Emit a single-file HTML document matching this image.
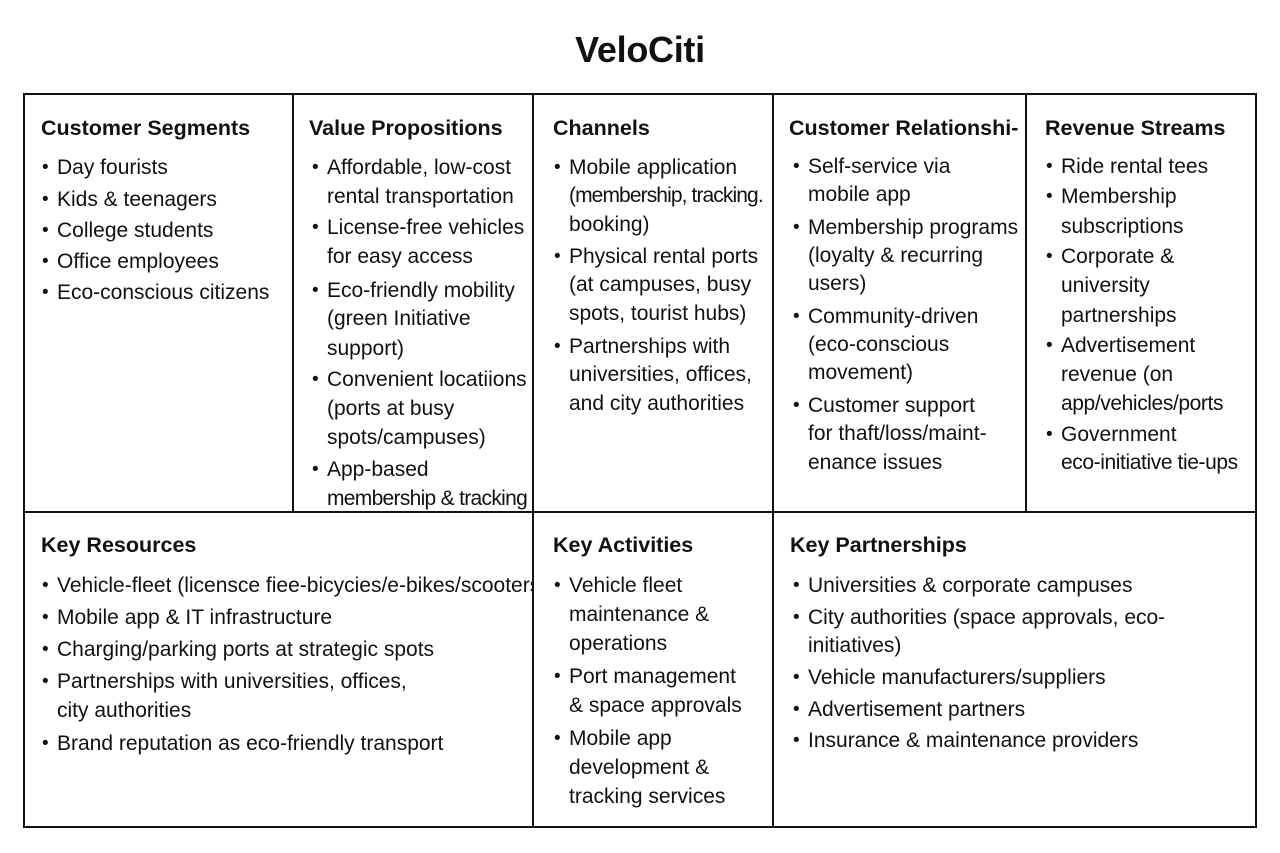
<!DOCTYPE html>
<html><head><meta charset="utf-8"><style>
body{margin:0;width:1280px;height:853px;background:#fff;position:relative;overflow:hidden;font-family:"Liberation Sans",Arial,sans-serif;color:#111}
.t{position:absolute;left:0;width:1280px;text-align:center;top:29px;font-size:36px;font-weight:bold;letter-spacing:-0.3px}
.l{position:absolute;font-size:21px;line-height:24px;white-space:nowrap}
.d{position:absolute;font-size:19px;line-height:24px}
.h{position:absolute;font-size:21.5px;line-height:24px;font-weight:bold;white-space:nowrap}
.b{position:absolute;width:2px;background:#111}
.hz{position:absolute;height:2px;background:#111}
.clip{position:absolute;left:25px;top:560px;width:507px;height:40px;overflow:hidden}
</style></head><body>
<div class="t">VeloCiti</div>
<div style="position:absolute;left:23px;top:93px;width:1230px;height:731px;border:2px solid #111"></div>
<div class="b" style="left:292px;top:93px;height:420px"></div>
<div class="b" style="left:532px;top:93px;height:734px"></div>
<div class="b" style="left:772px;top:93px;height:734px"></div>
<div class="b" style="left:1025px;top:93px;height:420px"></div>
<div class="hz" style="left:23px;top:511px;width:1234px"></div>
<div id="c"></div>
<script>
const H=[[41,127,"Customer Segments"],[309,127,"Value Propositions"],[553,127,"Channels"],[789,127,"Customer Relationshi-"],[1045,127,"Revenue Streams"],[41,544,"Key Resources"],[553,544,"Key Activities"],[790,544,"Key Partnerships"]];
const C=[
[57,[[167,"Day fourists",1],[199,"Kids & teenagers",1],[230,"College students",1],[261,"Office employees",1],[292,"Eco-conscious citizens",1]]],
[327,[[167,"Affordable, low-cost",1],[196,"rental transportation"],[227,"License-free vehicles",1],[256,"for easy access"],[290,"Eco-friendly mobility",1],[318,"(green Initiative"],[348,"support)"],[379,"Convenient locatiions",1],[408,"(ports at busy"],[437,"spots/campuses)"],[469,"App-based",1],[498,"membership & tracking",0,-0.7]]],
[569,[[167,"Mobile application",1],[195,"(membership, tracking.",0,-0.9],[224,"booking)"],[256,"Physical rental ports",1],[284,"(at campuses, busy"],[313,"spots, tourist hubs)"],[346,"Partnerships with",1],[374,"universities, offices,"],[403,"and city authorities"]]],
[808,[[166,"Self-service via",1],[194,"mobile app"],[227,"Membership programs",1],[255,"(loyalty & recurring"],[283,"users)"],[316,"Community-driven",1],[344,"(eco-conscious"],[372,"movement)"],[405,"Customer support",1],[433,"for thaft/loss/maint-"],[462,"enance issues"]]],
[1061,[[166,"Ride rental tees",1],[196,"Membership",1],[226,"subscriptions"],[256,"Corporate &",1],[285,"university"],[315,"partnerships"],[345,"Advertisement",1],[374,"revenue (on"],[403,"app/vehicles/ports",0,-0.4],[434,"Government",1],[462,"eco-initiative tie-ups",0,-0.4]]],
[57,[[617,"Mobile app & IT infrastructure",1],[649,"Charging/parking ports at strategic spots",1],[681,"Partnerships with universities, offices,",1],[710,"city authorities"],[743,"Brand reputation as eco-friendly transport",1]]],
[569,[[585,"Vehicle fleet",1],[614,"maintenance  &"],[643,"operations"],[676,"Port management",1],[705,"& space approvals"],[738,"Mobile app",1],[767,"development &"],[796,"tracking services"]]],
[808,[[585,"Universities & corporate campuses",1],[617,"City authorities (space approvals, eco-",1],[645,"initiatives)"],[677,"Vehicle manufacturers/suppliers",1],[709,"Advertisement partners",1],[740,"Insurance & maintenance providers",1]]]];
let s="";
const e=t=>t.replace(/&/g,"&amp;");
H.forEach(h=>s+=`<div class="h" style="left:${h[0]}px;top:${h[1]-11}px">${e(h[2])}</div>`);
C.forEach(c=>c[1].forEach(l=>{s+=`<div class="l" style="left:${c[0]}px;top:${l[0]-11}px;letter-spacing:${l[3]||0}px">${e(l[1])}</div>`;if(l[2])s+=`<div class="d" style="left:${c[0]-15}px;top:${l[0]-11}px">•</div>`;}));
s+=`<div class="clip"><div class="l" style="left:32px;top:14px">Vehicle-fleet (licensce fiee-bicycies/e-bikes/scooters)</div><div class="d" style="left:17px;top:14px">•</div></div>`;
document.getElementById("c").innerHTML=s;
</script>
</body></html>
